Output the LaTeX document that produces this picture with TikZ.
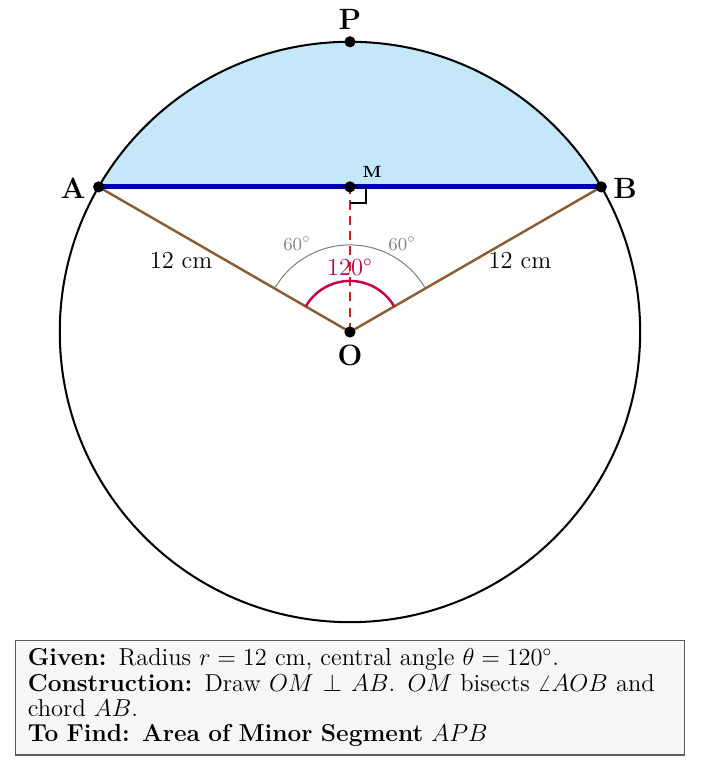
\documentclass[tikz,border=0pt]{standalone}
\usetikzlibrary{calc}
\definecolor{segfill}{RGB}{196,232,249}
\definecolor{chordblue}{RGB}{0,0,170}
\definecolor{radbrown}{RGB}{140,92,50}
\definecolor{omred}{RGB}{210,30,30}
\definecolor{anglered}{RGB}{200,0,75}
\definecolor{boxfill}{RGB}{247,247,247}
\definecolor{boxdraw}{RGB}{90,90,90}
\begin{document}
\begin{tikzpicture}[
  dot/.style={circle,fill=black,inner sep=0pt,minimum size=5.5pt},
  ptlabel/.style={font=\Large\bfseries,inner sep=0pt},
  anglabel/.style={font=\small,text=gray,inner sep=0pt},
  lenlabel/.style={font=\large,inner sep=0pt},
  infobox/.style={draw=boxdraw,fill=boxfill,line width=0.8pt,inner xsep=6pt,inner ysep=4pt,text width=11.1cm,align=left,font=\fontsize{12}{12.4}\selectfont}
]
\useasboundingbox (-6.03,-7.616) rectangle (6.065,5.72);
\coordinate (O) at (0,0);
\coordinate (A) at (150:5);
\coordinate (B) at (30:5);
\coordinate (P) at (90:5);
\coordinate (M) at (0,2.5);
% minor segment
\fill[segfill] (A) arc (150:30:5) -- cycle;
% circle
\draw[line width=1pt] (O) circle (5);
% radii
\draw[radbrown,line width=1.2pt] (A) -- (O) -- (B);
% OM
\draw[omred,line width=1.3pt,dash pattern=on 4.5pt off 3pt] (O) -- (M);
% angle arcs
\draw[gray,line width=0.5pt] (30:1.5) arc (30:150:1.5);
\draw[anglered,line width=1.2pt] (30:0.88) arc (30:150:0.88);
% chord
\draw[chordblue,line width=2.4pt] (A) -- (B);
% right angle mark
\coordinate (Rm) at ($(M)+(0.28,0)$);
\draw[line width=1pt] (Rm) -- ++(0,-0.27) -- ++(-0.28,0);
% dots
\node[dot] (dA) at (A) {};
\node[dot] (dB) at (B) {};
\node[dot] (dP) at (P) {};
\node[dot] (dM) at (M) {};
\node[dot] (dO) at (O) {};
% labels
\node[ptlabel] (lA) at (-4.77,2.48) {A};
\node[ptlabel] (lB) at (4.74,2.48) {B};
\node[ptlabel] (lP) at (0,5.38) {P};
\node[ptlabel] (lO) at (0,-0.41) {O};
\node[font=\fontsize{8}{9}\selectfont\bfseries,inner sep=0pt] (lM) at (0.38,2.76) {M};
\node[anglabel] (a1) at (-0.91,1.52) {$60^\circ$};
\node[anglabel] (a2) at (0.90,1.52) {$60^\circ$};
\node[inner sep=0pt,text=anglered,font=\large] (a3) at (0,1.12) {$120^\circ$};
\node[lenlabel] (r1) at (-2.91,1.24) {12 cm};
\node[lenlabel] (r2) at (2.93,1.24) {12 cm};
% info box
\node[infobox] (info) at (0,-6.30) {\textbf{Given:} Radius $r = 12$ cm, central angle $\theta = 120^\circ$.\\
\textbf{Construction:} Draw $OM \perp AB$. $OM$ bisects $\angle AOB$ and chord $AB$.\\
\textbf{To Find: Area of Minor Segment} $APB$};
\end{tikzpicture}
\end{document}
